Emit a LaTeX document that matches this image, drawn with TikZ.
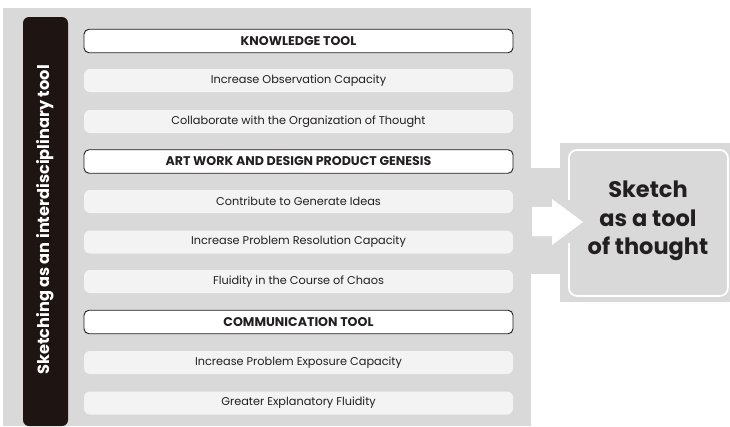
\documentclass[tikz,border=0pt]{standalone}
\usepackage{fontspec}
\setmainfont{Poppins}
\definecolor{panel}{HTML}{D9D9D9}
\definecolor{darkbar}{HTML}{1E1411}
\definecolor{itemfill}{HTML}{F3F3F3}
\definecolor{ink}{HTML}{231F20}
\begin{document}
\begin{tikzpicture}[x=1pt,y=-1pt,
  header/.style={draw=ink, line width=0.9pt, fill=white, rounded corners=5pt,
    minimum width=429pt, minimum height=23.5pt, inner sep=0pt,
    font=\fontsize{12.6}{14}\selectfont\bfseries, text=ink},
  item/.style={fill=itemfill, rounded corners=6pt,
    minimum width=429pt, minimum height=23pt, inner sep=0pt,
    font=\fontsize{11.3}{13}\selectfont, text=ink}]
\useasboundingbox (0,0) rectangle (730,426);
\clip (0,0) rectangle (730,426);
% left panel
\fill[panel] (3,8) rectangle (531,426);
% connector band and outer right box
\fill[panel] (530,168) rectangle (561,274);
\fill[panel] (560,143) rectangle (730,302);
% inner box with white border
\node[draw=white, line width=1.8pt, fill=panel, rounded corners=8pt,
  minimum width=159pt, minimum height=146pt, inner sep=0pt,
  anchor=north west] (goal) at (568,149) {};
\fill[panel] (565,200) rectangle (571,243);
\node[font=\fontsize{22.5}{28.5}\selectfont\bfseries, text=ink, align=center]
  (goaltext) at (648,221) {Sketch\\as a tool\\of thought};
% arrow
\fill[white] (532,207) -- (552,207) -- (552,199) -- (583,222) -- (552,245)
  -- (552,236) -- (532,236) -- cycle;
% dark bar
\fill[darkbar, rounded corners=6pt] (23,17) rectangle (68,426);
\node[rotate=90, text=white, font=\fontsize{16.2}{19}\selectfont\bfseries]
  (side) at (45.5,220) {Sketching as an interdisciplinary tool};
% rows
\node[header] (r1) at (298.5,41) {KNOWLEDGE TOOL};
\node[item]   (r2) at (298.5,80.5) {Increase Observation Capacity};
\node[item]   (r3) at (298.5,121.5) {Collaborate with the Organization of Thought};
\node[header] (r4) at (298.5,161.5) {ART WORK AND DESIGN PRODUCT GENESIS};
\node[item]   (r5) at (298.5,201.5) {Contribute to Generate Ideas};
\node[item]   (r6) at (298.5,242) {Increase Problem Resolution Capacity};
\node[item]   (r7) at (298.5,281.5) {Fluidity in the Course of Chaos};
\node[header] (r8) at (298.5,322) {COMMUNICATION TOOL};
\node[item]   (r9) at (298.5,362.5) {Increase Problem Exposure Capacity};
\node[item]   (r10) at (298.5,403) {Greater Explanatory Fluidity};
\end{tikzpicture}
\end{document}
